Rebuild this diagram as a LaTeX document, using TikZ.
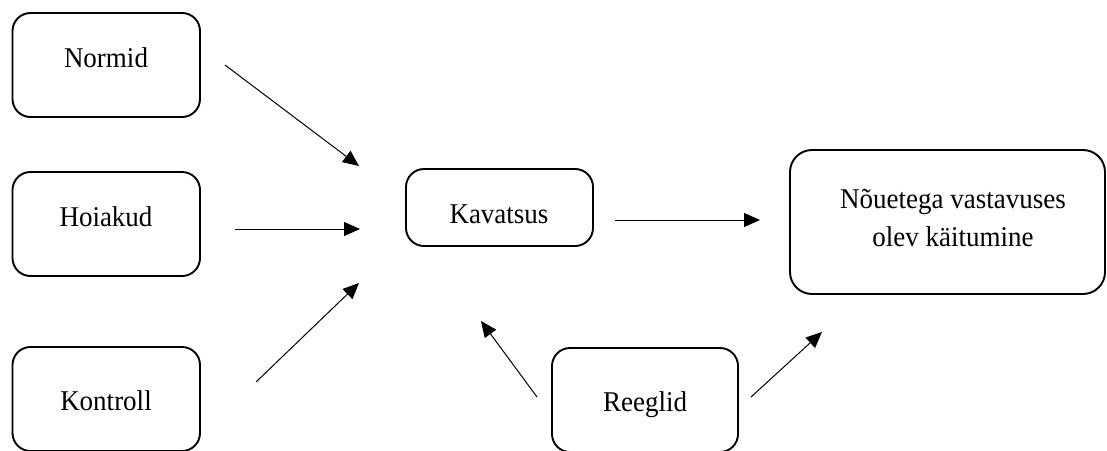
\documentclass[tikz,border=0pt]{standalone}
\usepackage{fontspec}
\setmainfont{Liberation Serif}
\usetikzlibrary{arrows.meta}
\newcommand{\tallt}[1]{\scalebox{1}[1.06]{#1}}
\begin{document}
\begin{tikzpicture}[x=1pt,y=-1pt,
  box/.style={draw, line width=1.9pt, rounded corners=18pt, inner sep=0pt},
  lbl/.style={anchor=base, inner sep=0pt, font=\fontsize{27}{38}\selectfont},
  arr/.style={line width=1pt, -{Triangle[length=16pt,width=14pt]}}]
\useasboundingbox (0,0) rectangle (1107,450);
% boxes
\node[box, minimum width=187.5pt, minimum height=104pt] (normid) at (106.25,65) {};
\node[box, minimum width=187.5pt, minimum height=104pt] (hoiakud) at (106.25,224) {};
\node[box, minimum width=187.5pt, minimum height=104pt] (kontroll) at (106.25,399) {};
\node[box, minimum width=187pt, minimum height=77pt] (kavatsus) at (499.5,207.5) {};
\node[box, minimum width=186pt, minimum height=104pt] (reeglid) at (645,400) {};
\node[box, rounded corners=22pt, minimum width=315pt, minimum height=144pt] (noue) at (947.5,222) {};
% labels
\node[lbl] (tnormid) at (106,67.7) {\tallt{Normid}};
\node[lbl] (thoiakud) at (106,226) {\tallt{Hoiakud}};
\node[lbl] (tkontroll) at (106,410) {\tallt{Kontroll}};
\node[lbl] (tkavatsus) at (499,223) {\tallt{Kavatsus}};
\node[lbl] (treeglid) at (645,411.7) {\tallt{Reeglid}};
\node[lbl] (tnoue1) at (953,208) {\tallt{Nõuetega vastavuses}};
\node[lbl] (tnoue2) at (953,246) {\tallt{olev käitumine}};
% connector end points
\coordinate (a1s) at (225,65);  \coordinate (a1e) at (359,166);
\coordinate (a2s) at (234.5,229); \coordinate (a2e) at (360,229);
\coordinate (a3s) at (256,382); \coordinate (a3e) at (359,283);
\coordinate (a4s) at (615,220); \coordinate (a4e) at (760,220);
\coordinate (a5s) at (537,397); \coordinate (a5e) at (481,321);
\coordinate (a6s) at (751,397); \coordinate (a6e) at (822,332);
\draw[arr] (a1s) -- (a1e);
\draw[arr] (a2s) -- (a2e);
\draw[arr] (a3s) -- (a3e);
\draw[arr] (a4s) -- (a4e);
\draw[arr] (a5s) -- (a5e);
\draw[arr] (a6s) -- (a6e);
\end{tikzpicture}
\end{document}
